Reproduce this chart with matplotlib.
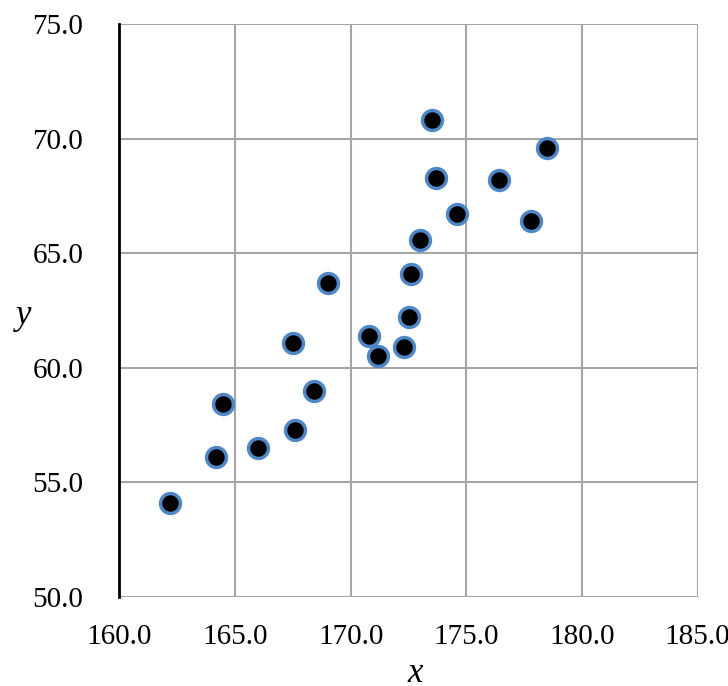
import matplotlib
matplotlib.use("Agg")
import matplotlib.pyplot as plt

x_vals = [162.2, 164.2, 164.5, 166.0, 167.5, 167.6, 168.4, 169.0, 170.8, 171.2,
          172.3, 172.5, 172.6, 173.0, 173.5, 173.7, 174.6, 176.4, 177.8, 178.5]
y_vals = [54.1, 56.1, 58.4, 56.5, 61.1, 57.3, 59.0, 63.7, 61.4, 60.5,
          60.9, 62.2, 64.1, 65.6, 70.8, 68.3, 66.7, 68.2, 66.4, 69.6]
x_ticks = [160.0, 165.0, 170.0, 175.0, 180.0, 185.0]
y_ticks = [50.0, 55.0, 60.0, 65.0, 70.0, 75.0]

plt.rcParams['font.family'] = ['Liberation Serif', 'DejaVu Serif']

W, H = 728, 686
fig = plt.figure(figsize=(W / 100, H / 100), dpi=100)
ax = fig.add_axes([0.1639, 0.1302, 0.9584 - 0.1639, 0.9646 - 0.1302])

ax.scatter(x_vals, y_vals, s=14.3**2, c='black', edgecolors='#4f86c6',
           linewidths=2.5, zorder=3)

ax.set_xlim(x_ticks[0], x_ticks[-1])
ax.set_ylim(y_ticks[0], y_ticks[-1])
ax.set_xticks(x_ticks)
ax.set_yticks(y_ticks)
ax.set_xticklabels([f"{v:.1f}" for v in x_ticks])
ax.set_yticklabels([f"{v:.1f}" for v in y_ticks])
ax.tick_params(axis='both', length=0, labelsize=21)
ax.tick_params(axis='x', pad=20)
ax.tick_params(axis='y', pad=26)

ax.grid(True, color='#a6a6a6', linewidth=1.5)
ax.set_axisbelow(True)
for s in ['top', 'right', 'bottom']:
    ax.spines[s].set_visible(False)
ax.spines['left'].set_linewidth(2)
ax.spines['left'].set_color('black')

fig.text(415 / W, 1 - 682 / H, 'x', fontsize=25, style='italic',
         ha='center', va='baseline')
fig.text(24 / W, 1 - 324 / H, 'y', fontsize=25, style='italic',
         ha='center', va='baseline')

fig.savefig('out.png', dpi=100)
